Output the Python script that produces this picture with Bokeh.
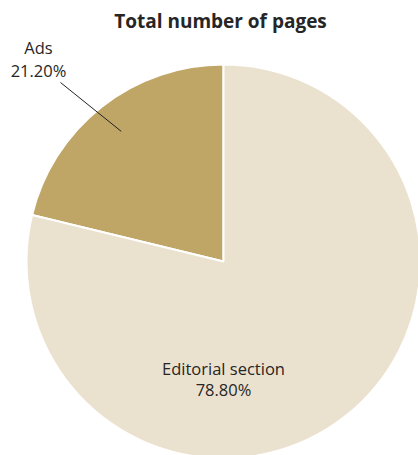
import math
from bokeh.plotting import figure
from bokeh.models import Range1d, ColumnDataSource
from bokeh.core.properties import value
from bokeh.embed import file_html
from bokeh.resources import INLINE

categories = ["Ads", "Editorial section"]
shares = [21.20, 78.80]
colors = ["#C0A666", "#EBE1CF"]
title_text = "Total number of pages"

W, H = 418, 455
cx, cy, R = 223, H - 261, 197

start = []
end = []
acc = 90.0
for s in shares:
    start.append(math.radians(acc))
    acc += s / 100 * 360
    end.append(math.radians(acc))

p = figure(width=W, height=H, output_backend="svg", toolbar_location=None,
           x_range=Range1d(0, W), y_range=Range1d(0, H), min_border=0)
p.axis.visible = False
p.grid.visible = False
p.outline_line_color = None
p.background_fill_color = "white"
p.border_fill_color = "white"

src = ColumnDataSource(dict(cat=categories, start=start, end=end, color=colors))
p.wedge(x=cx, y=cy, radius=R, start_angle="start", end_angle="end",
        fill_color="color", line_color="white", line_width=2, source=src)

font = value("Open Sans")
tc = "#262626"
# title
p.text(x=[220], y=[H - 20], text=[title_text], text_font=font, text_font_style="bold",
       text_font_size="19px", text_align="center", text_baseline="middle", text_color=tc)

# Ads label with leader
mid = (start[0] + end[0]) / 2
ex, ey = cx + 0.84 * R * math.cos(mid), cy + 0.84 * R * math.sin(mid)
p.line(x=[60, ex], y=[H - 82, ey], line_color="#222222", line_width=1)
p.text(x=[38, 38], y=[H - 47, H - 70], text=[categories[0], f"{shares[0]:.2f}%"], text_font=font,
       text_font_size="16.5px", text_align="center", text_baseline="middle", text_color=tc)

# Editorial label
p.text(x=[cx, cx], y=[H - 368, H - 389], text=[categories[1], f"{shares[1]:.2f}%"], text_font=font,
       text_font_size="16.5px", text_align="center", text_baseline="middle", text_color=tc)

open("out.html", "w").write(file_html(p, INLINE))
